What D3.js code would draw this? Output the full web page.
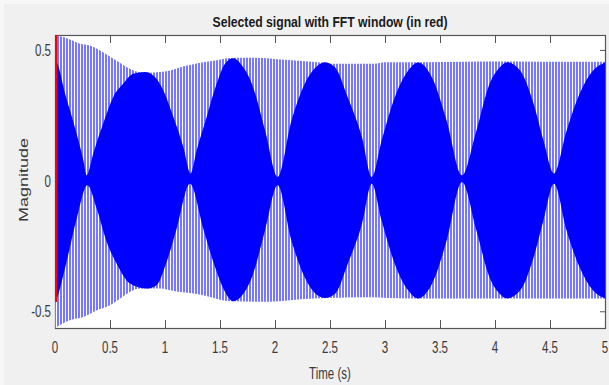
<!DOCTYPE html>
<html>
<head>
<meta charset="utf-8">
<script src="https://cdn.jsdelivr.net/npm/d3@7"></script>
<style>
  html, body { margin: 0; padding: 0; background: #f7f7f7; }
  svg { display: block; }
  text { font-family: "Liberation Sans", Arial, sans-serif; fill: #3a3a3a; }
</style>
</head>
<body>
<div id="chart"></div>
<script>
// envelope of the plotted signal: [time (s), magnitude]
const upperOuter = [
  [0, 0.557], [0.09, 0.547], [0.136, 0.54], [0.227, 0.524], [0.318, 0.517], [0.41, 0.498],
  [0.5, 0.475], [0.59, 0.451], [0.68, 0.428], [0.77, 0.415], [0.86, 0.413], [0.95, 0.415],
  [1.045, 0.421], [1.17, 0.437], [1.32, 0.451], [1.47, 0.46], [1.59, 0.469], [1.71, 0.47],
  [1.82, 0.47], [2.09, 0.462], [2.39, 0.453], [2.55, 0.447], [2.9, 0.447], [3.0, 0.453],
  [3.36, 0.453], [3.7, 0.455], [4.2, 0.456], [4.6, 0.455], [5, 0.455]
];
const lowerOuter = [
  [0, -0.564], [0.136, -0.534], [0.26, -0.522], [0.38, -0.496], [0.5, -0.477], [0.59, -0.452],
  [0.68, -0.426], [0.77, -0.413], [0.95, -0.413], [1.1, -0.424], [1.26, -0.432], [1.41, -0.445],
  [1.59, -0.462], [1.94, -0.464], [2.24, -0.454], [2.48, -0.449], [2.85, -0.446], [3.2, -0.451],
  [5, -0.451]
];
// boundary of the solid (dense) part of the signal
const upperInner = [
  [0, 0.46], [0.021, 0.448], [0.091, 0.333], [0.167, 0.224], [0.258, 0.077], [0.288, 0.02],
  [0.348, 0.104], [0.439, 0.219], [0.53, 0.32], [0.621, 0.371], [0.712, 0.409], [0.818, 0.415],
  [0.894, 0.402], [0.985, 0.345], [1.076, 0.243], [1.167, 0.128], [1.233, 0.027], [1.288, 0.116],
  [1.379, 0.243], [1.47, 0.371], [1.545, 0.447], [1.62, 0.468], [1.70, 0.44], [1.79, 0.37],
  [1.91, 0.192], [2.024, 0.014], [2.15, 0.23], [2.27, 0.37], [2.39, 0.44], [2.45, 0.453],
  [2.545, 0.434], [2.66, 0.32], [2.79, 0.167], [2.88, 0.014], [2.97, 0.154], [3.09, 0.32],
  [3.21, 0.42], [3.30, 0.452], [3.44, 0.383], [3.56, 0.23], [3.70, 0.02], [3.83, 0.19],
  [3.95, 0.37], [4.045, 0.434], [4.11, 0.453], [4.23, 0.42], [4.35, 0.295], [4.44, 0.154],
  [4.536, 0.027], [4.65, 0.19], [4.77, 0.333], [4.89, 0.42], [5.0, 0.452]
];
const lowerInner = [
  [0, -0.46], [0.015, -0.45], [0.091, -0.335], [0.197, -0.146], [0.294, -0.018], [0.379, -0.107],
  [0.47, -0.235], [0.561, -0.318], [0.682, -0.394], [0.833, -0.413], [0.924, -0.40], [1.015, -0.311],
  [1.106, -0.184], [1.227, -0.012], [1.348, -0.184], [1.439, -0.311], [1.53, -0.413], [1.621, -0.462],
  [1.70, -0.44], [1.79, -0.37], [1.91, -0.19], [2.024, -0.018], [2.15, -0.23], [2.27, -0.37],
  [2.39, -0.44], [2.45, -0.449], [2.545, -0.434], [2.66, -0.32], [2.79, -0.167], [2.88, -0.012],
  [2.97, -0.154], [3.09, -0.32], [3.21, -0.42], [3.30, -0.451], [3.44, -0.383], [3.56, -0.23],
  [3.70, -0.005], [3.83, -0.19], [3.95, -0.37], [4.045, -0.434], [4.11, -0.451], [4.23, -0.42],
  [4.35, -0.295], [4.44, -0.154], [4.536, -0.012], [4.65, -0.19], [4.77, -0.333], [4.89, -0.42],
  [5.0, -0.451]
];
// FFT window (red)
const fftWindow = [[0.01, 0.557], [0.01, -0.465]];

const xTicks = [0, 0.5, 1, 1.5, 2, 2.5, 3, 3.5, 4, 4.5, 5];
const xTickLabels = ['0', '0.5', '1', '1.5', '2', '2.5', '3', '3.5', '4', '4.5', '5'];
const yTicks = [-0.5, 0, 0.5];
const yTickLabels = ['-0.5', '0', '0.5'];

const W = 609, H = 385;
const plotLeft = 55, plotRight = 605, plotTop = 35, plotBottom = 328;
const squeeze = 0.72; // text in the picture is narrow

const svg = d3.select('#chart').append('svg')
  .attr('width', W)
  .attr('height', H);

const defs = svg.append('defs');
const pat = defs.append('pattern')
  .attr('id', 'stripes')
  .attr('patternUnits', 'userSpaceOnUse')
  .attr('width', 3)
  .attr('height', 10);
pat.append('rect').attr('width', 3).attr('height', 10).attr('fill', '#ffffff');
pat.append('rect').attr('width', 2).attr('height', 10).attr('fill', '#7878ff');
defs.append('clipPath').attr('id', 'plotclip')
  .append('rect')
  .attr('x', plotLeft).attr('y', plotTop)
  .attr('width', plotRight - plotLeft).attr('height', plotBottom - plotTop);

svg.append('rect')
  .attr('x', 4).attr('y', 4)
  .attr('width', W - 4).attr('height', H - 4)
  .attr('fill', '#f0f0f0');

const x = d3.scaleLinear().domain([0, 5]).range([plotLeft, plotRight]);
const y = d3.scaleLinear().domain([-0.564, 0.557]).range([plotBottom, plotTop]);

svg.append('rect')
  .attr('x', plotLeft).attr('y', plotTop)
  .attr('width', plotRight - plotLeft).attr('height', plotBottom - plotTop)
  .attr('fill', '#ffffff');

// ticks pointing inwards on all four sides
const axisColor = '#555555';
function styleAxis(g) {
  g.select('.domain').remove();
  g.selectAll('line').attr('stroke', axisColor);
}
svg.append('g').attr('transform', `translate(0,${plotBottom})`)
  .call(d3.axisBottom(x).tickValues(xTicks).tickSize(-8).tickFormat(''))
  .call(styleAxis);
svg.append('g').attr('transform', `translate(0,${plotTop})`)
  .call(d3.axisTop(x).tickValues(xTicks).tickSize(-8).tickFormat(''))
  .call(styleAxis);
svg.append('g').attr('transform', `translate(${plotLeft},0)`)
  .call(d3.axisLeft(y).tickValues(yTicks).tickSize(-5).tickFormat(''))
  .call(styleAxis);
svg.append('g').attr('transform', `translate(${plotRight},0)`)
  .call(d3.axisRight(y).tickValues(yTicks).tickSize(-5).tickFormat(''))
  .call(styleAxis);

svg.append('rect')
  .attr('x', plotLeft + 0.5).attr('y', plotTop + 0.5)
  .attr('width', plotRight - plotLeft).attr('height', plotBottom - plotTop)
  .attr('fill', 'none')
  .attr('stroke', axisColor)
  .attr('stroke-width', 1.2);

// signal
const plot = svg.append('g').attr('clip-path', 'url(#plotclip)');
const curve = d3.curveMonotoneX;
const areaTo = d3.area()
  .x(d => x(d[0]))
  .y0(y(0))
  .y1(d => y(d[1]))
  .curve(curve);

plot.append('path').datum(upperOuter).attr('d', areaTo).attr('fill', 'url(#stripes)');
plot.append('path').datum(lowerOuter).attr('d', areaTo).attr('fill', 'url(#stripes)');
plot.append('path').datum(upperInner).attr('d', areaTo).attr('fill', '#0000ff');
plot.append('path').datum(lowerInner).attr('d', areaTo).attr('fill', '#0000ff');
plot.append('rect')
  .attr('x', plotLeft).attr('y', y(0.006))
  .attr('width', plotRight - plotLeft).attr('height', y(-0.006) - y(0.006))
  .attr('fill', '#0000ff');

plot.append('path').datum(fftWindow)
  .attr('d', d3.line().x(d => x(d[0])).y(d => y(d[1])))
  .attr('stroke', '#ff0000')
  .attr('stroke-width', 2.2)
  .attr('fill', 'none');

// labels
function label(px, py, str, opts) {
  const t = svg.append('text')
    .attr('transform', `translate(${px},${py}) scale(${squeeze},1)` + (opts.rotate ? ` rotate(${opts.rotate})` : ''))
    .attr('text-anchor', opts.anchor || 'middle')
    .style('font-size', (opts.size || 16) + 'px')
    .text(str);
  return t;
}

xTicks.forEach((v, i) => label(x(v), 353, xTickLabels[i], {}));
yTicks.forEach((v, i) => label(51, y(v) + 6, yTickLabels[i], { anchor: 'end' }));

label(330, 379, 'Time (s)', {});
label(28, 180, 'Magnitude', { rotate: -90, size: 18 });

svg.append('text')
  .attr('x', 330).attr('y', 27)
  .attr('text-anchor', 'middle')
  .attr('textLength', 235)
  .attr('lengthAdjust', 'spacingAndGlyphs')
  .style('font-size', '15px')
  .style('font-weight', 'bold')
  .style('fill', '#1a1a1a')
  .text('Selected signal with FFT window (in red)');
</script>
</body>
</html>
